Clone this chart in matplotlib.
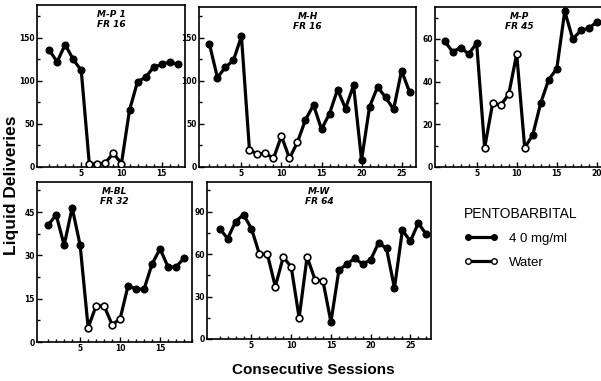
import matplotlib.pyplot as plt
from matplotlib.lines import Line2D

# sessions / deliveries; water sessions flagged with 0
mp1_vals = [136, 122, 142, 125, 112, 4, 3, 5, 16, 4, 66, 99, 104, 116, 119, 122, 119]
mp1_drug = [1, 1, 1, 1, 1, 0, 0, 0, 0, 0, 1, 1, 1, 1, 1, 1, 1]

mh_vals = [143, 104, 116, 124, 152, 20, 15, 16, 10, 36, 10, 29, 55, 72, 44, 62,
           90, 68, 95, 8, 70, 93, 81, 67, 112, 87]
mh_drug = [1, 1, 1, 1, 1, 0, 0, 0, 0, 0, 0, 0, 1, 1, 1, 1,
           1, 1, 1, 1, 1, 1, 1, 1, 1, 1]

mp_vals = [59, 54, 56, 53, 58, 9, 30, 29, 34, 53, 9, 15, 30, 41, 46, 73, 60, 64, 65, 68]
mp_drug = [1, 1, 1, 1, 1, 0, 0, 0, 0, 0, 0, 1, 1, 1, 1, 1, 1, 1, 1, 1]

mbl_vals = [40.5, 44, 33.5, 46.5, 33.5, 5, 12.5, 12.5, 6, 8, 19.5, 18.3, 18.3,
            27, 32.3, 26, 26, 29]
mbl_drug = [1, 1, 1, 1, 1, 0, 0, 0, 0, 0, 1, 1, 1, 1, 1, 1, 1, 1]

mw_vals = [78, 71, 83, 88, 78, 60, 60, 37, 58, 51, 15, 58, 42, 41, 12, 48.5, 53,
           57, 53, 56, 68, 64, 36, 77, 69, 82, 74]
mw_drug = [1, 1, 1, 1, 1, 0, 0, 0, 0, 0, 0, 0, 0, 0, 1, 1, 1,
           1, 1, 1, 1, 1, 1, 1, 1, 1, 1]

panels = [
    # name, values, drug flags, rect (px), xlim, ylim, major y, minor y
    ("M-P 1\nFR 16", mp1_vals, mp1_drug, [37, 5, 185, 167], (-0.5, 17.9), (0, 188), [0, 50, 100, 150], [25, 75, 125, 175]),
    ("M-H\nFR 16", mh_vals, mh_drug, [199, 7, 416, 167], (-0.3, 26.8), (0, 186), [0, 50, 100, 150], [25, 75, 125, 175]),
    ("M-P\nFR 45", mp_vals, mp_drug, [435, 7, 604, 167], (-0.2, 20.9), (0, 75), [0, 20, 40, 60], [10, 30, 50, 70]),
    ("M-BL\nFR 32", mbl_vals, mbl_drug, [37, 182, 192, 342], (-0.4, 19), (0, 55.4), [0, 15, 30, 45], [7.5, 22.5, 37.5, 52.5]),
    ("M-W\nFR 64", mw_vals, mw_drug, [207, 182, 431, 339], (-0.6, 27.6), (0, 111), [0, 30, 60, 90], [15, 45, 75, 105]),
]

W, H = 601, 381
fig = plt.figure(figsize=(W / 100, H / 100), dpi=100)

for name, vals, drug, r, xl, yl, yt, ymt in panels:
    ax = fig.add_axes([r[0] / W, 1 - r[3] / H, (r[2] - r[0]) / W, (r[3] - r[1]) / H])
    x = list(range(1, len(vals) + 1))
    ax.plot(x, vals, color="black", lw=2.3, zorder=2)
    xf = [xi for xi, d in zip(x, drug) if d]
    yf = [v for v, d in zip(vals, drug) if d]
    xo = [xi for xi, d in zip(x, drug) if not d]
    yo = [v for v, d in zip(vals, drug) if not d]
    ax.plot(xf, yf, "o", color="black", ms=4.8, zorder=3)
    ax.plot(xo, yo, "o", mfc="white", mec="black", mew=1.2, ms=4.8, zorder=3)
    ax.set_xlim(*xl)
    ax.set_ylim(*yl)
    ax.set_xticks(list(range(5, int(xl[1]) + 1, 5)))
    ax.set_xticks(list(range(1, int(xl[1]) + 1)), minor=True)
    ax.set_yticks(yt)
    ax.set_yticks(ymt, minor=True)
    ax.tick_params(which="both", direction="in", labelsize=5.5, pad=1.5, width=1)
    ax.tick_params(which="major", length=3.5)
    ax.tick_params(which="minor", length=2.5)
    for lab in ax.get_xticklabels() + ax.get_yticklabels():
        lab.set_fontweight("bold")
    for s in ax.spines.values():
        s.set_linewidth(1.2)
    ax.text(0.5, 0.97, name, transform=ax.transAxes, ha="center", va="top",
            fontsize=6.5, fontweight="bold", style="italic", linespacing=1.2)

handles = [
    Line2D([], [], color="black", lw=2.3, marker="o", ms=4, mfc="black"),
    Line2D([], [], color="black", lw=2.3, marker="o", ms=4, mfc="white", mec="black"),
]
leg = fig.legend(handles, ["4 0 mg/ml", "Water"], title="PENTOBARBITAL",
                 loc="upper left", bbox_to_anchor=(452 / W, 1 - 195 / H),
                 frameon=False, numpoints=2, handlelength=2.6, fontsize=9.5,
                 title_fontsize=10, labelspacing=0.9, handletextpad=0.8)
leg._legend_box.align = "left"
leg.get_title().set_fontfamily("Liberation Sans")
for t in leg.get_texts():
    t.set_fontfamily("Liberation Sans")

fig.text(12 / W, 1 - 185 / H, "Liquid Deliveries", rotation=90, ha="center", va="center",
         fontsize=12.5, fontweight="bold", family="Liberation Sans")
fig.text(313 / W, 1 - 370 / H, "Consecutive Sessions", ha="center", va="center",
         fontsize=11, fontweight="bold", family="Liberation Sans")

fig.savefig("out.png", dpi=100)
